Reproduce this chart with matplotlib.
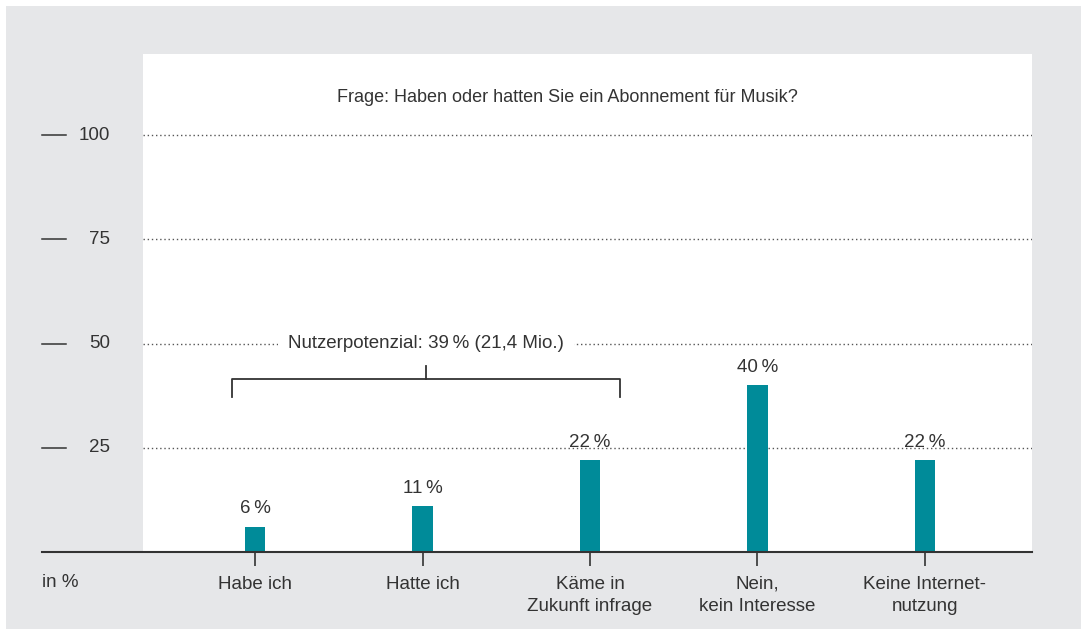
import matplotlib.pyplot as plt
from matplotlib.patches import Rectangle

kategorien = ["Habe ich", "Hatte ich", "Käme in\nZukunft infrage", "Nein,\nkein Interesse", "Keine Internet-\nnutzung"]
werte = [6, 11, 22, 40, 22]
yticks = [25, 50, 75, 100]
titel = "Frage: Haben oder hatten Sie ein Abonnement für Musik?"
potenzial = "Nutzerpotenzial: 39\u2009% (21,4 Mio.)"

teal = "#008b99"
textfarbe = "#333333"
grau = "#e6e7e9"

plt.rcParams['font.family'] = ['Liberation Sans', 'DejaVu Sans']

W, H = 1081, 633
fig = plt.figure(figsize=(W / 100, H / 100), dpi=100, facecolor="white")

# grauer Hintergrund
fig.patches.append(Rectangle((6 / W, 1 - 629 / H), (W - 6) / W, (629 - 6) / H,
                             transform=fig.transFigure, facecolor=grau, edgecolor="none", zorder=-10))

# weisse Zeichenflaeche
ax = fig.add_axes([143 / W, 1 - 552 / H, (1032 - 143) / W, (552 - 54) / H])
ax.set_facecolor("white")
x = list(range(len(werte)))
ax.bar(x, werte, width=0.12, color=teal, zorder=3)
ax.set_xlim(-0.669, 4.639)
ax.set_ylim(0, 119.5)
for s in ax.spines.values():
    s.set_visible(False)
ax.set_yticks([])
ax.set_xticks(x)
ax.set_xticklabels(kategorien, fontsize=13.5, color=textfarbe, linespacing=1.45)
ax.tick_params(axis="x", length=10, width=1.2, color=textfarbe, pad=7)

# Hilfslinien und linke Skala
tr = ax.get_yaxis_transform()
for t in yticks:
    ax.axhline(t, color="#555555", lw=1, ls=(0, (1, 2)), zorder=1)
    ax.plot([-0.1136, -0.0866], [t, t], transform=tr, color=textfarbe, lw=1.1, clip_on=False)
    ax.text(-0.0371, t, str(t), transform=tr, ha="right", va="center",
            fontsize=13.5, color=textfarbe)

# Grundlinie
ax.plot([-0.1136, 1], [0, 0], transform=tr, color=textfarbe, lw=1.5, clip_on=False, zorder=4)
ax.text(-0.1136, -7.2, "in %", transform=tr, ha="left", va="center", fontsize=13.5, color=textfarbe)

# Werte ueber den Balken
for xi, v in zip(x, werte):
    ax.text(xi, v + 2.3, f"{v}\u2009%", ha="center", va="bottom", fontsize=13.5, color=textfarbe)

# Titel
ax.text(0.477, 0.912, titel, transform=ax.transAxes, ha="center", va="center",
        fontsize=13, color=textfarbe)

# Klammer Nutzerpotenzial
yk = 41.5
ax.plot([-0.14, -0.14, 2.18, 2.18], [yk - 4.3, yk, yk, yk - 4.3], color=textfarbe, lw=1.3, zorder=4)
ax.plot([1.02, 1.02], [yk, yk + 3.2], color=textfarbe, lw=1.3, zorder=4)
ax.text(1.02, 50, potenzial, ha="center", va="center", fontsize=13.5, color=textfarbe,
        bbox=dict(facecolor="white", edgecolor="none", pad=7), zorder=5)

fig.savefig("out.png", dpi=100, facecolor="white")
